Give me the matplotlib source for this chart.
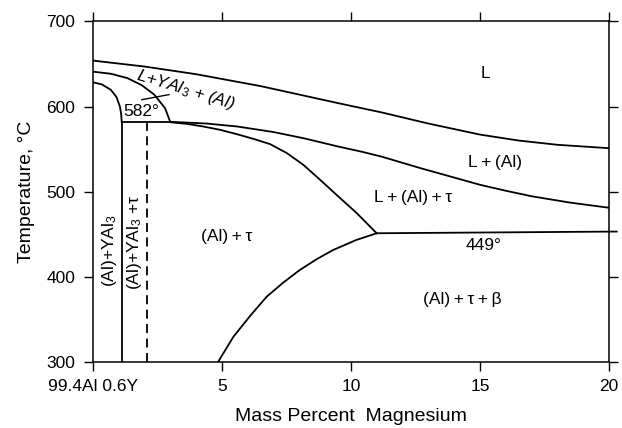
import matplotlib
matplotlib.use('Agg')
import matplotlib.pyplot as plt

plt.rcParams['font.family'] = ['Liberation Sans', 'DejaVu Sans']
plt.rcParams['mathtext.fontset'] = 'custom'
plt.rcParams['mathtext.rm'] = 'Liberation Sans'
plt.rcParams['mathtext.it'] = 'Liberation Sans:italic'

# liquidus (L / L+(Al))
liq_x = [0, 2, 4, 6.5, 8, 9.5, 11.2, 13, 15, 16.5, 18, 20]
liq_y = [654, 647, 638, 624, 614, 604, 593, 580, 567, 560, 555, 551]

# L+(Al) / L+(Al)+tau boundary
b2_x = [3.0, 4.4, 5.6, 7.0, 8.2, 9.5, 10.4, 11.2, 12.7, 14.0, 15.0, 16.0, 17.0, 18.5, 20]
b2_y = [582, 580, 576.5, 570, 562.5, 553, 547, 541, 527.5, 516.5, 508, 501, 494.5, 487, 481]

# L+YAl3+(Al) left boundary
b3_x = [0, 0.7, 1.34, 1.9, 2.38, 2.8, 3.0]
b3_y = [641, 638.5, 633.4, 625, 614, 598, 582]

# (Al)+YAl3 solvus
b4_x = [0, 0.35, 0.7, 0.92, 1.05, 1.1, 1.12]
b4_y = [628.5, 626, 619.6, 611, 600, 591, 582]

# 582 eutectic line
e582_x = [1.12, 3.0]
e582_y = [582, 582]

# (Al)+tau / L+(Al)+tau
b5_x = [2.99, 3.64, 4.28, 4.93, 5.58, 6.22, 6.87, 7.52, 8.16, 8.81, 9.45, 10.23, 11.0]
b5_y = [581.6, 579.6, 576.5, 572.6, 567.5, 562, 555.8, 545.2, 531.4, 513.8, 496, 474.6, 451]

# (Al)+tau / (Al)+tau+beta
b6_x = [4.86, 5.45, 6.1, 6.74, 7.4, 8.03, 8.7, 9.32, 10.2, 11.0]
b6_y = [300, 329.4, 354, 376.5, 393.5, 408, 421, 431.4, 443, 451]

# 449 line
e449_x = [11.0, 20.3]
e449_y = [451, 453]

vert_x = 1.12
dash_x = 2.1

xticks = [0, 5, 10, 15, 20]
xtick_labels = ['99.4Al 0.6Y', '5', '10', '15', '20']
yticks = [300, 400, 500, 600, 700]

fig = plt.figure(figsize=(6.22, 4.28), dpi=100)
ax = fig.add_axes([0.1492, 0.1549, 0.8298, 0.795])

lw = 1.3
ax.plot(liq_x, liq_y, c='black', lw=lw)
ax.plot(b2_x, b2_y, c='black', lw=lw)
ax.plot(b3_x, b3_y, c='black', lw=lw)
ax.plot(b4_x, b4_y, c='black', lw=lw)
ax.plot(e582_x, e582_y, c='black', lw=lw)
ax.plot(b5_x, b5_y, c='black', lw=lw)
ax.plot(b6_x, b6_y, c='black', lw=lw)
ax.plot(e449_x, e449_y, c='black', lw=lw, clip_on=False)
ax.plot([vert_x, vert_x], [300, 582], c='black', lw=lw)
ax.plot([dash_x, dash_x], [300, 582], c='black', lw=lw, ls=(0, (5, 3)))
# small leader line under the L+YAl3+(Al) label
ax.plot([1.9, 2.95], [608, 614], c='black', lw=1)

fs = 12.5
sp = '\u2009'
ax.text(15.2, 639, 'L', fontsize=fs, ha='center', va='center')
ax.text(3.6, 620, 'L+YAl$_3$ + (Al)', fontsize=fs, style='italic',
        rotation=-17, ha='center', va='center')
ax.text(1.2, 585, '582°', fontsize=fs, ha='left', va='bottom')
ax.text(15.6, 534, 'L' + sp + '+' + sp + '(Al)', fontsize=fs, ha='center', va='center')
ax.text(12.4, 493, 'L' + sp + '+' + sp + '(Al)' + sp + '+' + sp + 'τ', fontsize=fs,
        ha='center', va='center')
ax.text(15.15, 437, '449°', fontsize=fs, ha='center', va='center')
ax.text(5.2, 447, '(Al)' + sp + '+' + sp + 'τ', fontsize=fs, ha='center', va='center')
ax.text(14.3, 373, '(Al)' + sp + '+' + sp + 'τ' + sp + '+' + sp + 'β', fontsize=fs,
        ha='center', va='center')
ax.text(0.66, 430, '(Al)+YAl$_3$', fontsize=fs, rotation=90,
        ha='center', va='center')
ax.text(1.62, 440, '(Al)+YAl$_3$ +τ', fontsize=fs, rotation=90,
        ha='center', va='center')

ax.set_xlim(0, 20)
ax.set_ylim(300, 700)
ax.set_xticks(xticks)
ax.set_xticklabels(xtick_labels)
ax.set_yticks(yticks)
ax.tick_params(direction='out', length=6.5, width=1, labelsize=12.5,
               top=True, right=True, pad=6)
for s in ax.spines.values():
    s.set_linewidth(1.1)
ax.set_xlabel('Mass Percent  Magnesium', fontsize=14, labelpad=10)
ax.set_ylabel('Temperature, °C', fontsize=14, labelpad=8)

fig.savefig('out.png', dpi=100)
